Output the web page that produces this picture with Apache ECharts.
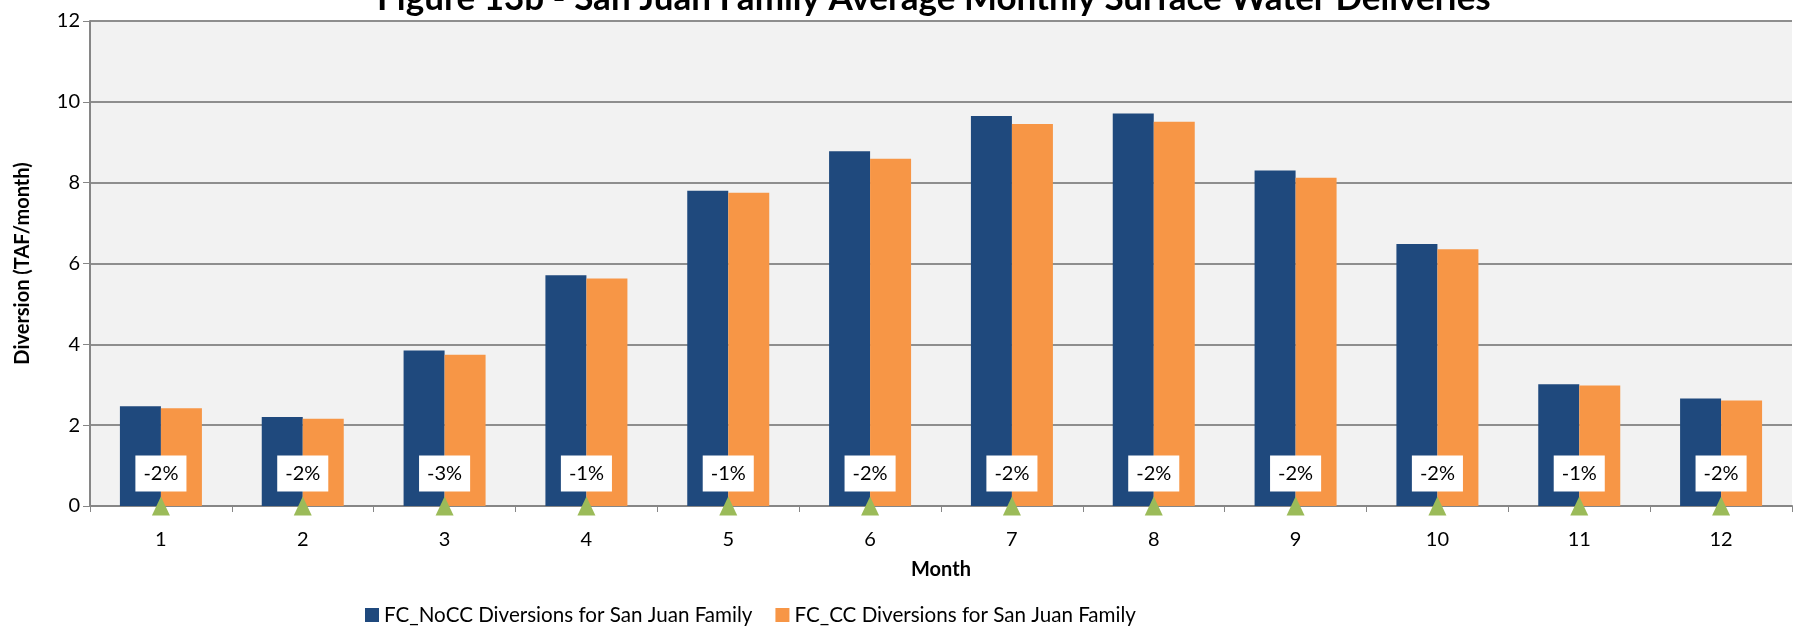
<!DOCTYPE html>
<html>
<head>
<meta charset="utf-8">
<script src="https://cdn.jsdelivr.net/npm/echarts@6/dist/echarts.min.js"></script>
<style>
  html, body { margin: 0; padding: 0; background: #fff; }
  #main { width: 1802px; height: 626px; }
</style>
</head>
<body>
<div id="main"></div>
<script>
var months = ['1', '2', '3', '4', '5', '6', '7', '8', '9', '10', '11', '12'];
var noCC = [2.47, 2.20, 3.85, 5.71, 7.80, 8.78, 9.65, 9.71, 8.30, 6.48, 3.01, 2.66];
var withCC = [2.42, 2.16, 3.74, 5.63, 7.75, 8.59, 9.45, 9.51, 8.12, 6.35, 2.98, 2.61];
var pctChange = ['-2%', '-2%', '-3%', '-1%', '-1%', '-2%', '-2%', '-2%', '-2%', '-2%', '-1%', '-2%'];
var markerBase = [0, 0, 0, 0, 0, 0, 0, 0, 0, 0, 0, 0];

var font = 'Lato';

var option = {
    animation: false,
    backgroundColor: '#ffffff',
    textStyle: { fontFamily: font },
    title: {
        text: 'Figure 13b - San Juan Family Average Monthly Surface Water Deliveries',
        left: 372,
        top: -24,
        textStyle: { fontFamily: font, fontSize: 35, fontWeight: 'bold', color: '#000' }
    },
    legend: {
        data: ['FC_NoCC Diversions for San Juan Family', 'FC_CC Diversions for San Juan Family'],
        left: 360,
        top: 599,
        itemWidth: 14,
        itemHeight: 14,
        itemGap: 23,
        icon: 'rect',
        textStyle: { fontFamily: font, fontSize: 20.6, lineHeight: 22, color: '#000' }
    },
    grid: {
        left: 90,
        right: 10,
        top: 21,
        bottom: 120,
        show: true,
        backgroundColor: '#f2f2f2',
        borderWidth: 0
    },
    xAxis: {
        type: 'category',
        data: months,
        name: 'Month',
        nameLocation: 'middle',
        nameGap: 54,
        nameTextStyle: { fontFamily: font, fontSize: 20, fontWeight: 'bold', color: '#000' },
        axisLine: { lineStyle: { color: '#868686', width: 2 } },
        axisTick: { show: true, length: 6, lineStyle: { color: '#868686' } },
        axisLabel: { margin: 24, fontSize: 20, color: '#000' }
    },
    yAxis: {
        type: 'value',
        min: 0,
        max: 12,
        interval: 2,
        name: 'Diversion (TAF/month)',
        nameLocation: 'middle',
        nameGap: 57,
        nameTextStyle: { fontFamily: font, fontSize: 20, fontWeight: 'bold', color: '#000' },
        axisLine: { show: true, lineStyle: { color: '#868686', width: 2 } },
        axisTick: { show: true, length: 7, lineStyle: { color: '#868686' } },
        axisLabel: { margin: 10, fontSize: 20, color: '#000' },
        splitLine: { lineStyle: { color: '#8e8e8e', width: 2 } }
    },
    series: [
        {
            name: 'FC_NoCC Diversions for San Juan Family',
            type: 'bar',
            data: noCC,
            barWidth: 41,
            barGap: '0%',
            itemStyle: { color: '#1f497d' }
        },
        {
            name: 'FC_CC Diversions for San Juan Family',
            type: 'bar',
            data: withCC,
            barWidth: 41,
            itemStyle: { color: '#f79646' }
        },
        {
            name: 'Change',
            type: 'scatter',
            data: markerBase,
            symbol: 'triangle',
            symbolSize: [18, 19],
            z: 5,
            itemStyle: { color: '#9bbb59', opacity: 1 },
            label: {
                show: true,
                position: 'top',
                distance: 5,
                formatter: function (p) { return pctChange[p.dataIndex]; },
                backgroundColor: '#ffffff',
                padding: [8, 8, 8, 8],
                fontFamily: font,
                fontSize: 20,
                color: '#000'
            }
        }
    ]
};

var chart = echarts.init(document.getElementById('main'));
chart.setOption(option);
</script>
</body>
</html>
